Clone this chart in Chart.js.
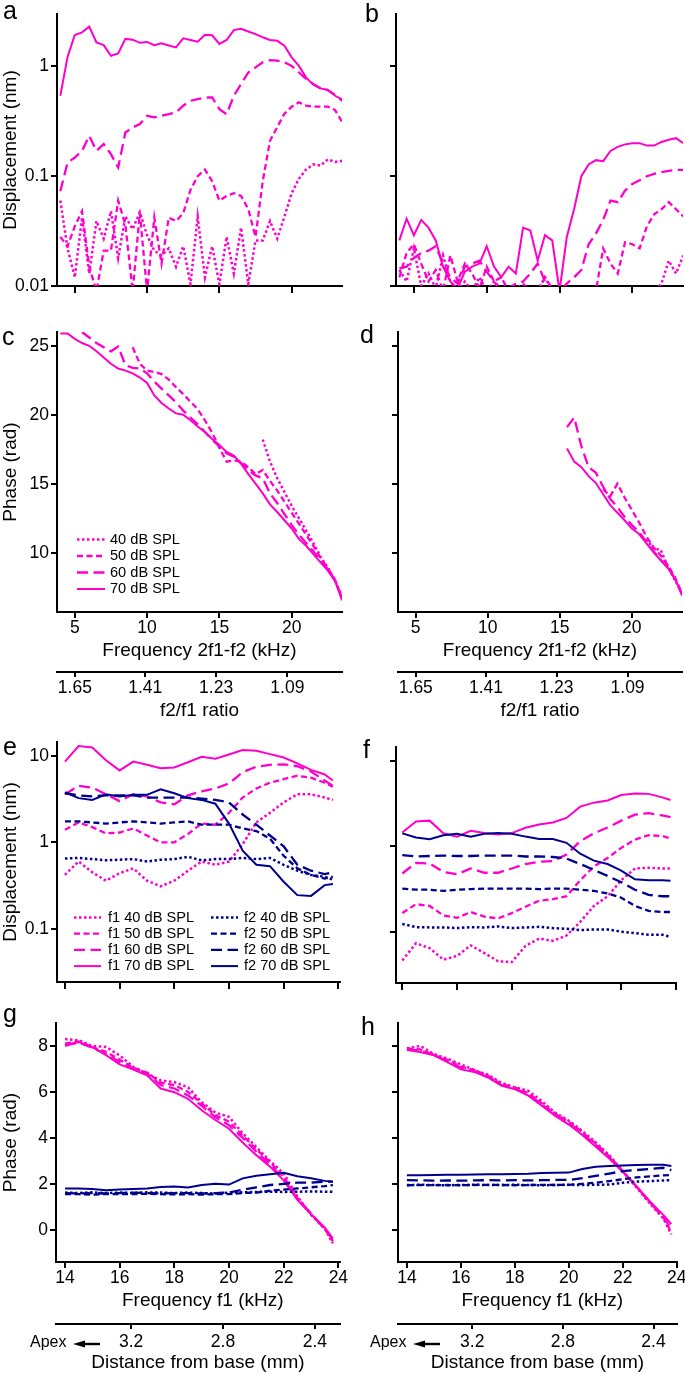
<!DOCTYPE html>
<html>
<head>
<meta charset="utf-8">
<script src="https://cdn.jsdelivr.net/npm/chart.js@4.4.1/dist/chart.umd.min.js"></script>
<style>
  html, body { margin: 0; padding: 0; background: #fff; }
  body { width: 685px; height: 1374px; position: relative; overflow: hidden; }
  canvas { position: absolute; }
</style>
</head>
<body>
<canvas id="pa" width="352" height="300" style="left:0;top:0"></canvas>
<canvas id="pb" width="352" height="300" style="left:333px;top:0"></canvas>
<canvas id="pc" width="352" height="420" style="left:0;top:305px"></canvas>
<canvas id="pd" width="352" height="420" style="left:333px;top:305px"></canvas>
<canvas id="pe" width="352" height="270" style="left:0;top:728px"></canvas>
<canvas id="pf" width="352" height="270" style="left:333px;top:728px"></canvas>
<canvas id="pg" width="352" height="374" style="left:0;top:1000px"></canvas>
<canvas id="ph" width="352" height="374" style="left:333px;top:1000px"></canvas>
<script>
// ---- DPOAE sweep (panels a-d): frequency 2f1-f2, kHz ----
const freqDP = [4, 4.5, 5, 5.5, 6, 6.5, 7, 7.5, 8, 8.5, 9, 9.5, 10, 10.5, 11, 11.5, 12, 12.5, 13, 13.5,
                14, 14.5, 15, 15.5, 16, 16.5, 17, 17.5, 18, 18.5, 19, 19.5, 20, 20.5, 21, 21.5, 22, 22.5, 23, 23.5];

// a: displacement (nm)
const a70 = [0.54, 1.22, 1.93, 2.04, 2.30, 1.65, 1.56, 1.25, 1.31, 1.78, 1.75, 1.64, 1.67, 1.56, 1.62, 1.55, 1.49, 1.80, 1.74, 1.68,
             1.94, 1.92, 1.60, 1.74, 2.14, 2.20, 2.08, 1.97, 1.84, 1.74, 1.71, 1.54, 1.21, 1.01, 0.79, 0.68, 0.63, 0.61, 0.54, 0.50];
const a60 = [0.073, 0.133, 0.148, 0.170, 0.233, 0.170, 0.196, 0.159, 0.120, 0.25, 0.278, 0.298, 0.355, 0.343, 0.355, 0.367, 0.381, 0.438, 0.486, 0.504,
             0.521, 0.521, 0.408, 0.367, 0.540, 0.69, 0.88, 0.98, 1.09, 1.14, 1.13, 1.09, 1.01, 0.88, 0.77, 0.69, 0.63, 0.61, 0.55, 0.486];
const a50 = [0.028, 0.023, 0.035, 0.048, 0.015, 0.009, 0.021, 0.021, 0.06, 0.036, 0.009, 0.046, 0.009, 0.042, 0.016, 0.042, 0.039, 0.046, 0.075, 0.1,
             0.115, 0.09, 0.06, 0.066, 0.07, 0.066, 0.05, 0.028, 0.09, 0.21, 0.28, 0.37, 0.43, 0.47, 0.44, 0.43, 0.43, 0.43, 0.40, 0.31];
const a40 = [0.06, 0.022, 0.012, 0.042, 0.013, 0.039, 0.027, 0.048, 0.018, 0.043, 0.033, 0.047, 0.029, 0.021, 0.019, 0.022, 0.015, 0.023, 0.0104, 0.043,
             0.012, 0.023, 0.0104, 0.028, 0.013, 0.034, 0.0104, 0.026, 0.026, 0.039, 0.027, 0.043, 0.07, 0.095, 0.115, 0.128, 0.125, 0.142, 0.135, 0.138];

// b: displacement (nm)
const b70 = [0.026, 0.041, 0.029, 0.040, 0.034, 0.026, 0.015, 0.011, 0.0095, 0.0135, 0.015, 0.016, 0.023, 0.015, 0.012, 0.015, 0.013, 0.034, 0.032, 0.017,
             0.029, 0.026, 0.009, 0.028, 0.05, 0.1, 0.128, 0.14, 0.137, 0.17, 0.185, 0.195, 0.2, 0.2, 0.19, 0.19, 0.205, 0.215, 0.222, 0.2];
const b60 = [0.0144, 0.015, 0.018, 0.02, 0.021, 0.023, 0.016, 0.012, 0.0105, 0.015, 0.016, 0.017, 0.0135, 0.011, 0.009, 0.0095, 0.0105, 0.011, 0.013, 0.016,
             0.011, 0.0095, 0.009, 0.0105, 0.012, 0.014, 0.024, 0.03, 0.04, 0.06, 0.058, 0.074, 0.085, 0.092, 0.1, 0.105, 0.109, 0.112, 0.114, 0.114];
const b50 = [0.012, 0.02, 0.024, 0.016, 0.011, 0.014, 0.009, 0.019, 0.011, 0.016, 0.013, 0.0095, 0.015, 0.011, 0.012, 0.009, 0.0095, 0.0105, 0.009, 0.009,
             0.012, 0.0095, 0.009, 0.009, 0.009, 0.009, 0.009, 0.009, 0.022, 0.016, 0.013, 0.025, 0.024, 0.022, 0.035, 0.045, 0.05, 0.058, 0.05, 0.043];
const b40 = [0.014, 0.011, 0.022, 0.01, 0.013, 0.0095, 0.019, 0.011, 0.009, 0.011, 0.009, 0.012, 0.009, 0.011, 0.0095, 0.01, 0.009, 0.009, 0.009, 0.009,
             0.012, 0.009, 0.009, 0.009, 0.009, 0.009, 0.009, 0.009, 0.009, 0.009, 0.009, 0.009, 0.009, 0.009, 0.009, 0.009, 0.0105, 0.017, 0.013, 0.019];

// c: phase (rad)
const c70 = [25.9, 25.9, 25.5, 25.2, 25.0, 24.6, 24.15, 23.7, 23.35, 23.2, 23.0, 22.7, 22.3, 21.4, 20.85, 20.45, 20.1, 20.0, 19.6, 19.15,
             18.75, 18.25, 17.8, 17.3, 17.05, 16.45, 15.7, 15.0, 14.3, 13.5, 12.95, 12.35, 11.75, 11.0, 10.5, 9.9, 9.3, 8.7, 7.95, 6.55];
const c60 = [null, null, null, 26.0, 25.6, 25.2, 24.9, 24.6, 24.95, 23.6, 23.4, 23.35, 23.0, 22.4, 21.9, 21.4, 20.9, 20.3, 19.8, 19.3,
             18.75, 18.2, 17.7, 17.2, 16.95, 16.5, 16.0, 15.6, 15.4, 14.3, 13.6, 12.8, 12.0, 11.3, 10.7, 10.1, 9.4, 8.8, 8.0, 6.6];
const c50 = [null, null, null, null, null, null, null, null, null, null, 24.9, 23.7, 23.2, 23.1, 22.95, 22.55, 22.0, 21.5, 20.95, 20.4,
             19.6, 18.7, 17.6, 16.6, 16.7, 16.6, 16.2, 15.7, 16.0, 15.2, 14.5, 13.7, 12.9, 12.1, 11.3, 10.5, 9.6, 8.9, 8.0, 6.6];
const c40 = [null, null, null, null, null, null, null, null, null, null, null, null, null, null, null, null, null, null, null, null,
             null, null, null, null, null, null, null, null, 18.2, 16.6, 15.4, 14.4, 13.4, 12.5, 11.6, 10.7, 9.7, 8.9, 8.0, 6.8];

// d: phase (rad)
const d70 = [null, null, null, null, null, null, null, null, null, null, null, null, null, null, null, null, null, null, null, null,
             null, null, null, 17.55, 16.6, 16.2, 15.55, 15.05, 14.25, 13.45, 12.9, 12.35, 11.75, 11.35, 10.7, 10.05, 9.45, 8.9, 8.1, 6.9];
const d60 = [null, null, null, null, null, null, null, null, null, null, null, null, null, null, null, null, null, null, null, null,
             null, null, null, 19.1, 19.8, 17.7, 16.2, 15.8, 14.8, 13.9, 13.3, 12.6, 12.0, 11.5, 10.8, 10.1, 9.5, 8.9, 8.1, 6.9];
const d50 = [null, null, null, null, null, null, null, null, null, null, null, null, null, null, null, null, null, null, null, null,
             null, null, null, null, null, null, null, null, 14.6, 14.1, 15.0, 14.0, 13.1, 12.2, 11.2, 10.4, 9.8, 9.1, 8.2, 7.0];
const d40 = [null, null, null, null, null, null, null, null, null, null, null, null, null, null, null, null, null, null, null, null,
             null, null, null, null, null, null, null, null, null, null, null, null, null, null, 11.0, 10.3, 10.2, 9.0, 8.0, 7.0];

// ---- primary tones (panels e-h): frequency f1, kHz ----
const freqF1 = [14, 14.5, 15, 15.5, 16, 16.5, 17, 17.5, 18, 18.5, 19, 19.5, 20, 20.5, 21, 21.5, 22, 22.5, 23, 23.5, 23.8];

// e: displacement (nm)
const eF1_70 = [8.6, 13.0, 12.5, 8.9, 6.8, 8.6, 7.9, 7.2, 7.35, 8.45, 9.8, 9.3, 10.4, 11.7, 11.5, 10.5, 9.6, 8.2, 6.9, 6.1, 5.2];
const eF1_60 = [3.6, 4.5, 4.3, 3.6, 3.0, 3.6, 3.4, 2.9, 2.75, 3.5, 3.9, 4.2, 4.8, 6.5, 7.5, 7.9, 8.0, 7.6, 6.6, 5.2, 4.5];
const eF1_50 = [1.4, 1.7, 1.5, 1.27, 1.3, 1.45, 1.2, 1.0, 1.0, 1.25, 1.65, 1.6, 2.2, 3.3, 4.2, 4.9, 5.4, 5.9, 5.6, 4.9, 4.4];
const eF1_40 = [0.42, 0.6, 0.45, 0.36, 0.44, 0.5, 0.36, 0.31, 0.36, 0.47, 0.6, 0.55, 0.6, 0.95, 1.7, 2.2, 2.9, 3.6, 3.6, 3.3, 3.1];
const eF2_70 = [3.8, 3.25, 3.1, 3.6, 3.4, 3.55, 3.55, 4.1, 3.7, 3.25, 3.1, 2.8, 1.65, 0.8, 0.55, 0.53, 0.35, 0.245, 0.24, 0.32, 0.33];
const eF2_60 = [3.7, 3.5, 3.4, 3.5, 3.5, 3.5, 3.3, 3.3, 3.3, 3.3, 3.2, 3.1, 2.9, 2.1, 1.6, 1.2, 0.9, 0.55, 0.47, 0.43, 0.45];
const eF2_50 = [1.75, 1.75, 1.7, 1.65, 1.7, 1.75, 1.7, 1.65, 1.7, 1.75, 1.6, 1.6, 1.6, 1.45, 1.35, 1.1, 0.7, 0.5, 0.42, 0.38, 0.40];
const eF2_40 = [0.65, 0.66, 0.64, 0.62, 0.63, 0.64, 0.6, 0.63, 0.64, 0.68, 0.62, 0.64, 0.64, 0.66, 0.64, 0.66, 0.55, 0.47, 0.42, 0.40, 0.37];

// f: displacement (nm)
const fF1_70 = [1.45, 1.95, 2.0, 1.42, 1.3, 1.52, 1.43, 1.38, 1.43, 1.65, 1.8, 1.9, 2.15, 2.92, 3.25, 3.45, 4.0, 4.15, 4.12, 3.75, 3.49];
const fF1_60 = [0.48, 0.64, 0.63, 0.5, 0.47, 0.55, 0.49, 0.49, 0.55, 0.62, 0.66, 0.67, 0.8, 1.15, 1.42, 1.66, 2.0, 2.35, 2.45, 2.3, 2.2];
const fF1_50 = [0.165, 0.21, 0.2, 0.155, 0.145, 0.17, 0.15, 0.143, 0.165, 0.196, 0.23, 0.24, 0.26, 0.4, 0.58, 0.73, 0.96, 1.2, 1.35, 1.32, 1.24];
const fF1_40 = [0.046, 0.073, 0.064, 0.047, 0.052, 0.069, 0.056, 0.045, 0.044, 0.068, 0.083, 0.078, 0.09, 0.13, 0.2, 0.26, 0.4, 0.55, 0.56, 0.55, 0.55];
const fF2_70 = [1.42, 1.27, 1.21, 1.35, 1.4, 1.3, 1.4, 1.43, 1.4, 1.3, 1.22, 1.22, 1.1, 0.82, 0.68, 0.62, 0.52, 0.41, 0.4, 0.4, 0.395];
const fF2_60 = [0.79, 0.76, 0.77, 0.78, 0.77, 0.77, 0.78, 0.78, 0.78, 0.76, 0.76, 0.75, 0.72, 0.62, 0.53, 0.45, 0.38, 0.31, 0.27, 0.26, 0.26];
const fF2_50 = [0.32, 0.31, 0.31, 0.3, 0.31, 0.315, 0.32, 0.32, 0.32, 0.32, 0.315, 0.32, 0.32, 0.31, 0.3, 0.28, 0.25, 0.2, 0.175, 0.17, 0.17];
const fF2_40 = [0.123, 0.113, 0.112, 0.112, 0.11, 0.113, 0.112, 0.115, 0.11, 0.112, 0.114, 0.11, 0.108, 0.104, 0.106, 0.106, 0.1, 0.096, 0.092, 0.092, 0.087];

// g: phase (rad)
const gF1_70 = [8.0, 8.17, 7.95, 7.6, 7.2, 6.97, 6.72, 6.15, 5.99, 5.7, 5.2, 4.78, 4.4, 3.8, 3.25, 2.75, 2.15, 1.3, 0.68, 0.1, -0.38];
const gF1_60 = [8.05, 8.15, 7.92, 7.65, 7.3, 7.0, 6.8, 6.3, 6.15, 5.85, 5.4, 4.9, 4.55, 4.0, 3.4, 2.85, 2.2, 1.35, 0.7, 0.05, -0.45];
const gF1_50 = [8.1, 8.2, 7.95, 7.75, 7.4, 7.05, 6.85, 6.4, 6.3, 6.0, 5.5, 5.0, 4.7, 4.1, 3.5, 2.95, 2.3, 1.4, 0.7, 0.05, -0.5];
const gF1_40 = [8.3, 8.25, 8.0, 7.96, 7.59, 7.09, 6.8, 6.5, 6.43, 6.2, 5.55, 5.1, 4.92, 4.2, 3.6, 3.0, 2.45, 1.45, 0.65, 0.05, -0.59];
const gF2_70 = [1.8, 1.8, 1.78, 1.72, 1.76, 1.78, 1.8, 1.86, 1.88, 1.84, 1.95, 2.0, 1.97, 2.24, 2.35, 2.42, 2.48, 2.33, 2.24, 2.13, 2.09];
const gF2_60 = [1.6, 1.58, 1.6, 1.58, 1.6, 1.62, 1.6, 1.58, 1.6, 1.6, 1.58, 1.6, 1.62, 1.75, 1.85, 1.95, 2.0, 2.05, 2.05, 2.1, 2.1];
const gF2_50 = [1.55, 1.55, 1.53, 1.56, 1.55, 1.55, 1.57, 1.55, 1.54, 1.55, 1.53, 1.55, 1.55, 1.6, 1.62, 1.7, 1.75, 1.8, 1.85, 1.9, 1.95];
const gF2_40 = [1.62, 1.6, 1.63, 1.6, 1.62, 1.6, 1.63, 1.62, 1.6, 1.62, 1.6, 1.58, 1.62, 1.63, 1.65, 1.66, 1.65, 1.66, 1.67, 1.66, 1.66];

// h: phase (rad)
const hF1_70 = [7.82, 7.74, 7.59, 7.3, 6.98, 6.87, 6.63, 6.28, 6.12, 5.84, 5.4, 4.96, 4.58, 4.13, 3.62, 3.1, 2.52, 1.9, 1.25, 0.65, 0.25];
const hF1_60 = [7.85, 7.8, 7.62, 7.35, 7.05, 6.9, 6.68, 6.3, 6.15, 5.9, 5.45, 5.0, 4.65, 4.2, 3.7, 3.15, 2.55, 1.9, 1.2, 0.55, 0.05];
const hF1_50 = [7.9, 7.85, 7.6, 7.4, 7.1, 6.95, 6.7, 6.35, 6.2, 5.95, 5.5, 5.05, 4.7, 4.25, 3.75, 3.2, 2.55, 1.9, 1.2, 0.55, -0.1];
const hF1_40 = [7.9, 8.0, 7.65, 7.45, 7.2, 6.95, 6.75, 6.4, 6.2, 6.05, 5.6, 5.1, 4.75, 4.3, 3.8, 3.25, 2.55, 1.85, 1.15, 0.5, -0.2];
const hF2_70 = [2.38, 2.38, 2.39, 2.4, 2.4, 2.41, 2.42, 2.42, 2.43, 2.44, 2.47, 2.48, 2.49, 2.65, 2.74, 2.78, 2.8, 2.82, 2.83, 2.83, 2.78];
const hF2_60 = [2.16, 2.15, 2.14, 2.15, 2.14, 2.15, 2.16, 2.15, 2.16, 2.15, 2.16, 2.17, 2.17, 2.25, 2.35, 2.45, 2.55, 2.6, 2.65, 2.7, 2.6];
const hF2_50 = [1.94, 1.95, 1.94, 1.95, 1.94, 1.95, 1.96, 1.95, 1.94, 1.95, 1.96, 1.95, 1.96, 2.0, 2.05, 2.12, 2.2, 2.28, 2.33, 2.37, 2.38];
const hF2_40 = [1.95, 1.96, 1.95, 1.94, 1.95, 1.96, 1.95, 1.95, 1.96, 1.95, 1.94, 1.95, 1.96, 1.95, 1.96, 1.97, 2.05, 2.1, 2.12, 2.15, 2.16];

// ---- tick labels ----
const dpTicks = [5, 10, 15, 20];
const f1Ticks = [14, 16, 18, 20, 22, 24];
const dispTicksAB = [0.01, 0.1, 1];
const dispTicksEF = [0.1, 1, 10];
const phaseTicksCD = [10, 15, 20, 25];
const phaseTicksGH = [0, 2, 4, 6, 8];
const ratioTicks = [1.65, 1.41, 1.23, 1.09];
const distTicks = [3.2, 2.8, 2.4];

// f2 held fixed during the ratio sweep; place map for the distance axis
const F2_FIXED = 23.6;
const ratioToDP = r => F2_FIXED * (2 / r - 1);
const distToF1 = d => 16.42 + (3.2 - d) * 8.4;

const FONT = '"Liberation Sans", Arial, Helvetica, sans-serif';
const MAGENTA = '#ff00cc';
const NAVY = '#00008f';
const STYLE = {
    40: { dash: [2.5, 2.5], width: 2.5 },
    50: { dash: [6, 3.5], width: 2.3 },
    60: { dash: [11, 5.5], width: 2.3 },
    70: { dash: [], width: 2 }
};

const annotPlugin = {
    id: 'annot',
    afterDraw(chart, args, o) {
        const ctx = chart.ctx;
        const ox = o.ox || 0, oy = o.oy || 0;
        ctx.save();
        ctx.fillStyle = '#000';
        if (o.letter) {
            ctx.font = '25px ' + FONT;
            ctx.textBaseline = 'alphabetic';
            ctx.fillText(o.letter.text, o.letter.x - ox, o.letter.y - oy);
        }
        (o.legend || []).forEach(item => {
            const st = STYLE[item.level];
            ctx.beginPath();
            ctx.strokeStyle = item.color;
            ctx.lineWidth = st.width;
            ctx.setLineDash(st.dash);
            ctx.moveTo(item.x1 - ox, item.y - oy);
            ctx.lineTo(item.x2 - ox, item.y - oy);
            ctx.stroke();
            ctx.setLineDash([]);
            ctx.font = '14.6px ' + FONT;
            ctx.textBaseline = 'middle';
            ctx.fillText(item.label, item.tx - ox, item.y - oy);
        });
        if (o.apex) {
            const a = o.apex;
            ctx.font = '16px ' + FONT;
            ctx.textBaseline = 'middle';
            ctx.fillText('Apex', a.x - ox, a.y - oy);
            ctx.strokeStyle = '#000';
            ctx.lineWidth = 2.4;
            ctx.beginPath();
            ctx.moveTo(a.tail - ox, a.y + 1 - oy);
            ctx.lineTo(a.tip + 10 - ox, a.y + 1 - oy);
            ctx.stroke();
            ctx.beginPath();
            ctx.moveTo(a.tip - ox, a.y + 1 - oy);
            ctx.lineTo(a.tip + 12 - ox, a.y + 1 - 3.5 - oy);
            ctx.lineTo(a.tip + 12 - ox, a.y + 1 + 3.5 - oy);
            ctx.closePath();
            ctx.fill();
        }
        ctx.restore();
    }
};

function fixedTicks(values) {
    return s => { s.ticks = values.map(v => ({ value: v })); };
}
function fixSize(prop, size) {
    return s => {
        s[prop] = size;
        s.paddingLeft = 0; s.paddingRight = 0; s.paddingTop = 0; s.paddingBottom = 0;
    };
}

function xAxis(o) {
    return {
        type: 'linear', position: 'bottom', bounds: 'data', min: o.min, max: o.max, weight: o.weight || 0,
        afterBuildTicks: fixedTicks(o.at),
        afterFit: fixSize('height', o.height),
        border: { display: true, color: '#000', width: 2 },
        grid: { drawOnChartArea: false, drawTicks: true, tickLength: o.tick || 6, color: '#000', lineWidth: 2 },
        ticks: {
            display: !!o.labels, color: '#000', padding: o.pad || 0, maxRotation: 0, autoSkip: false,
            font: { family: FONT, size: 17.5 },
            callback: (v, i) => (o.labels ? o.labels[i] : '')
        },
        title: o.title
            ? { display: true, text: o.title, color: '#000', font: { family: FONT, size: 19 }, padding: { top: 0, bottom: o.titlePad } }
            : { display: false }
    };
}

function yAxis(o) {
    return {
        type: o.log ? 'logarithmic' : 'linear', position: 'left', bounds: 'data', min: o.min, max: o.max,
        afterBuildTicks: fixedTicks(o.at),
        afterFit: fixSize('width', o.width),
        border: { display: true, color: '#000', width: 2 },
        grid: { drawOnChartArea: false, drawTicks: true, tickLength: 6, color: '#000', lineWidth: 2 },
        ticks: {
            display: !!o.labels, color: '#000', padding: 2, autoSkip: false,
            font: { family: FONT, size: 17.5 },
            callback: (v, i) => (o.labels ? o.labels[i] : '')
        },
        title: o.title
            ? { display: true, text: o.title, color: '#000', font: { family: FONT, size: 19 }, padding: { top: -1, bottom: 0 } }
            : { display: false }
    };
}

function series(freq, values, level, color) {
    const st = STYLE[level];
    return {
        data: freq.map((f, i) => ({ x: f, y: values[i] })),
        borderColor: color, borderWidth: st.width, borderDash: st.dash,
        pointRadius: 0, tension: 0, fill: false, spanGaps: false
    };
}

function panel(id, cfg) {
    return new Chart(document.getElementById(id), {
        type: 'line',
        data: { datasets: cfg.datasets },
        options: {
            responsive: false, animation: false, devicePixelRatio: 1,
            layout: { padding: { top: cfg.padTop, right: cfg.padRight, left: 0, bottom: 0 } },
            plugins: { legend: { display: false }, tooltip: { enabled: false }, annot: cfg.annot },
            scales: cfg.scales
        },
        plugins: [annotPlugin]
    });
}

const levels = [40, 50, 60, 70];
const dbLabel = l => l + ' dB SPL';
// title for the f1 axis sits a little right of the plot centre in the original
const F1_TITLE = '\u2002Frequency f1 (kHz)';

// ---- a ----
panel('pa', {
    padTop: 14, padRight: 10,
    datasets: [series(freqDP, a70, 70, MAGENTA), series(freqDP, a60, 60, MAGENTA), series(freqDP, a50, 50, MAGENTA), series(freqDP, a40, 40, MAGENTA)],
    scales: {
        x: xAxis({ min: 3.77, max: 23.48, at: dpTicks, height: 14, tick: 7 }),
        y: yAxis({ log: true, min: 0.01, max: 3.0, at: dispTicksAB, labels: ['0.01', '0.1', '1'], width: 57, title: 'Displacement (nm)' })
    },
    annot: { ox: 0, oy: 0, letter: { text: 'a', x: 3, y: 19 } }
});

// ---- b ----
panel('pb', {
    padTop: 14, padRight: 2,
    datasets: [series(freqDP, b70, 70, MAGENTA), series(freqDP, b60, 60, MAGENTA), series(freqDP, b50, 50, MAGENTA), series(freqDP, b40, 40, MAGENTA)],
    scales: {
        x: xAxis({ min: 3.77, max: 23.48, at: dpTicks, height: 14, tick: 7 }),
        y: yAxis({ log: true, min: 0.01, max: 3.0, at: dispTicksAB, width: 63 })
    },
    annot: { ox: 333, oy: 0, letter: { text: 'b', x: 365, y: 22 } }
});

// ---- c ----
panel('pc', {
    padTop: 27, padRight: 10,
    datasets: [series(freqDP, c70, 70, MAGENTA), series(freqDP, c60, 60, MAGENTA), series(freqDP, c50, 50, MAGENTA), series(freqDP, c40, 40, MAGENTA)],
    scales: {
        x: xAxis({ min: 3.77, max: 23.48, at: dpTicks, labels: dpTicks.map(String), height: 60, title: 'Frequency 2f1-f2 (kHz)', titlePad: 10 }),
        x2: xAxis({ min: 3.77, max: 23.48, at: ratioTicks.map(ratioToDP), labels: ratioTicks.map(r => r.toFixed(2)), height: 53, tick: 5, pad: 1, weight: 1, title: 'f2/f1 ratio', titlePad: 3 }),
        y: yAxis({ min: 5.7, max: 26.0, at: phaseTicksCD, labels: phaseTicksCD.map(String), width: 57, title: 'Phase (rad)' })
    },
    annot: {
        ox: 0, oy: 305, letter: { text: 'c', x: 2, y: 345 },
        legend: levels.map((l, i) => ({ level: l, color: MAGENTA, label: dbLabel(l), x1: 77, x2: 105, tx: 110, y: 539.5 + i * 16.5 }))
    }
});

// ---- d ----
panel('pd', {
    padTop: 27, padRight: 3,
    datasets: [series(freqDP, d70, 70, MAGENTA), series(freqDP, d60, 60, MAGENTA), series(freqDP, d50, 50, MAGENTA), series(freqDP, d40, 40, MAGENTA)],
    scales: {
        x: xAxis({ min: 3.77, max: 23.48, at: dpTicks, labels: dpTicks.map(String), height: 60, title: 'Frequency 2f1-f2 (kHz)', titlePad: 10 }),
        x2: xAxis({ min: 3.77, max: 23.48, at: ratioTicks.map(ratioToDP), labels: ratioTicks.map(r => r.toFixed(2)), height: 53, tick: 5, pad: 1, weight: 1, title: 'f2/f1 ratio', titlePad: 3 }),
        y: yAxis({ min: 5.7, max: 26.0, at: phaseTicksCD, width: 65 })
    },
    annot: { ox: 333, oy: 305, letter: { text: 'd', x: 360, y: 343 } }
});

// ---- e ----
const legendEF = [];
levels.forEach((l, i) => {
    legendEF.push({ level: l, color: MAGENTA, label: 'f1 ' + dbLabel(l), x1: 74, x2: 101, tx: 108, y: 917.5 + i * 16.2 });
    legendEF.push({ level: l, color: NAVY, label: 'f2 ' + dbLabel(l), x1: 211, x2: 238, tx: 244, y: 917.5 + i * 16.2 });
});
panel('pe', {
    padTop: 14, padRight: 12,
    datasets: [
        series(freqF1, eF2_70, 70, NAVY), series(freqF1, eF2_60, 60, NAVY), series(freqF1, eF2_50, 50, NAVY), series(freqF1, eF2_40, 40, NAVY),
        series(freqF1, eF1_70, 70, MAGENTA), series(freqF1, eF1_60, 60, MAGENTA), series(freqF1, eF1_50, 50, MAGENTA), series(freqF1, eF1_40, 40, MAGENTA)
    ],
    scales: {
        x: xAxis({ min: 13.71, max: 24.06, at: f1Ticks, height: 16, tick: 7 }),
        y: yAxis({ log: true, min: 0.0242, max: 14.5, at: dispTicksEF, labels: ['0.1', '1', '10'], width: 57, title: 'Displacement (nm)' })
    },
    annot: { ox: 0, oy: 728, letter: { text: 'e', x: 3, y: 755 }, legend: legendEF }
});

// ---- f ----
panel('pf', {
    padTop: 19, padRight: 9,
    datasets: [
        series(freqF1, fF2_70, 70, NAVY), series(freqF1, fF2_60, 60, NAVY), series(freqF1, fF2_50, 50, NAVY), series(freqF1, fF2_40, 40, NAVY),
        series(freqF1, fF1_70, 70, MAGENTA), series(freqF1, fF1_60, 60, MAGENTA), series(freqF1, fF1_50, 50, MAGENTA), series(freqF1, fF1_40, 40, MAGENTA)
    ],
    scales: {
        x: xAxis({ min: 13.77, max: 24.0, at: f1Ticks, height: 15, tick: 7 }),
        y: yAxis({ log: true, min: 0.025, max: 14.6, at: dispTicksEF, width: 63 })
    },
    annot: { ox: 333, oy: 728, letter: { text: 'f', x: 363, y: 758 } }
});

// ---- g ----
panel('pg', {
    padTop: 23, padRight: 12,
    datasets: [
        series(freqF1, gF2_70, 70, NAVY), series(freqF1, gF2_60, 60, NAVY), series(freqF1, gF2_50, 50, NAVY), series(freqF1, gF2_40, 40, NAVY),
        series(freqF1, gF1_70, 70, MAGENTA), series(freqF1, gF1_60, 60, MAGENTA), series(freqF1, gF1_50, 50, MAGENTA), series(freqF1, gF1_40, 40, MAGENTA)
    ],
    scales: {
        x: xAxis({ min: 13.67, max: 24.06, at: f1Ticks, labels: f1Ticks.map(String), height: 62, title: F1_TITLE, titlePad: 12 }),
        x2: xAxis({ min: 13.67, max: 24.06, at: distTicks.map(distToF1), labels: distTicks.map(d => d.toFixed(1)), height: 50, tick: 5, pad: 3, weight: 1, title: 'Distance from base (mm)', titlePad: 0 }),
        y: yAxis({ min: -1.4, max: 9.0, at: phaseTicksGH, labels: phaseTicksGH.map(String), width: 56, title: 'Phase (rad)' })
    },
    annot: { ox: 0, oy: 1000, letter: { text: 'g', x: 3, y: 1022 }, apex: { x: 30, y: 1343, tip: 73, tail: 100 } }
});

// ---- h ----
panel('ph', {
    padTop: 23, padRight: 8,
    datasets: [
        series(freqF1, hF2_70, 70, NAVY), series(freqF1, hF2_60, 60, NAVY), series(freqF1, hF2_50, 50, NAVY), series(freqF1, hF2_40, 40, NAVY),
        series(freqF1, hF1_70, 70, MAGENTA), series(freqF1, hF1_60, 60, MAGENTA), series(freqF1, hF1_50, 50, MAGENTA), series(freqF1, hF1_40, 40, MAGENTA)
    ],
    scales: {
        x: xAxis({ min: 13.67, max: 24.01, at: f1Ticks, labels: f1Ticks.map(String), height: 62, title: F1_TITLE, titlePad: 12 }),
        x2: xAxis({ min: 13.67, max: 24.01, at: distTicks.map(distToF1), labels: distTicks.map(d => d.toFixed(1)), height: 50, tick: 5, pad: 3, weight: 1, title: 'Distance from base (mm)', titlePad: 0 }),
        y: yAxis({ min: -1.4, max: 9.0, at: phaseTicksGH, width: 65 })
    },
    annot: { ox: 333, oy: 1000, letter: { text: 'h', x: 361, y: 1035 }, apex: { x: 370, y: 1343, tip: 413, tail: 440 } }
});
</script>
</body>
</html>
